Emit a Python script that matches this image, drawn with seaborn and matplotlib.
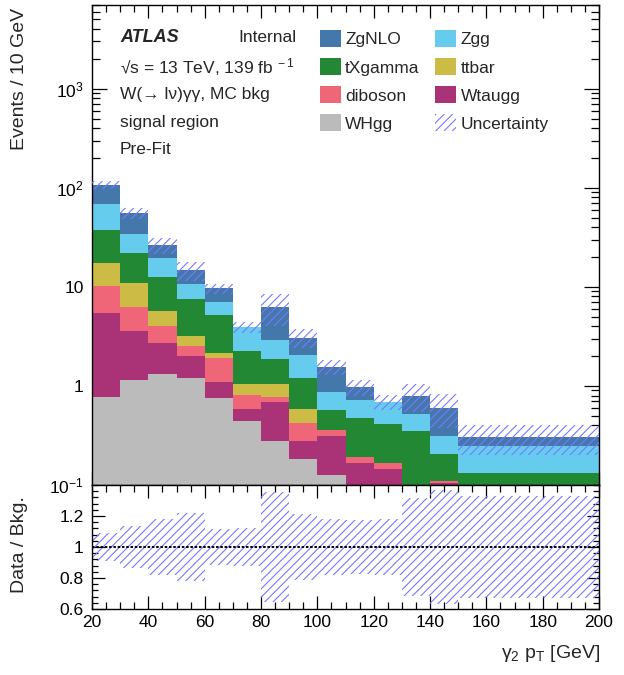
import numpy as np
import pandas as pd
import matplotlib
matplotlib.use("Agg")
import matplotlib.pyplot as plt
import seaborn as sns
from matplotlib.patches import Patch
from matplotlib.ticker import FixedLocator, FixedFormatter, MultipleLocator, LogLocator, NullFormatter

# ---------------- data ----------------
bin_edges = [20, 30, 40, 50, 60, 70, 80, 90, 100, 110, 120, 130, 140, 150, 200]
processes = ["ZgNLO", "Zgg", "tXgamma", "ttbar", "diboson", "Wtaugg", "WHgg"]
colors = ["#4477AA", "#66CCEE", "#228833", "#CCBB44", "#EE6677", "#AA3377", "#BBBBBB"]

ZgNLO   = [38.3, 21.1, 6.6, 4.0, 2.57, 0.0, 3.37, 1.04, 0.687, 0.247, 0.0, 0.273, 0.287, 0.054]
Zgg     = [31.4, 12.3, 7.1, 3.15, 1.97, 1.68, 1.05, 0.85, 0.303, 0.242, 0.28, 0.163, 0.11, 0.118]
tXgamma = [20.5, 11.3, 6.92, 4.37, 2.98, 1.225, 0.815, 0.61, 0.212, 0.284, 0.246, 0.293, 0.094, 0.071]
ttbar   = [7.1, 4.63, 1.65, 0.64, 0.25, 0.227, 0.259, 0.161, 0.0, 0.0, 0.0, 0.0, 0.0, 0.0]
diboson = [4.69, 2.70, 1.29, 0.54, 0.82, 0.228, 0.089, 0.141, 0.044, 0.027, 0.022, 0.01, 0.006, 0.01]
Wtaugg  = [4.73, 2.41, 1.43, 0.80, 0.342, 0.135, 0.409, 0.095, 0.188, 0.106, 0.094, 0.03, 0.064, 0.03]
WHgg    = [0.776, 1.16, 1.31, 1.20, 0.748, 0.445, 0.278, 0.183, 0.126, 0.06, 0.05, 0.02, 0.04, 0.02]
rel_unc = [0.09, 0.133, 0.18, 0.22, 0.117, 0.125, 0.356, 0.216, 0.18, 0.176, 0.18, 0.315, 0.37, 0.33]

x_ticks = [20, 40, 60, 80, 100, 120, 140, 160, 180, 200]
y_ticks = [0.1, 1, 10, 100, 1000]
y_tick_labels = ["$10^{-1}$", "1", "10", "$10^{2}$", "$10^{3}$"]
r_ticks = [0.6, 0.8, 1.0, 1.2]
r_tick_labels = ["0.6", "0.8", "1", "1.2"]

series = dict(zip(processes, [ZgNLO, Zgg, tXgamma, ttbar, diboson, Wtaugg, WHgg]))

# ---------------- style ----------------
sns.set_theme(style="ticks")
plt.rcParams["font.family"] = ["Liberation Sans", "DejaVu Sans"]
plt.rcParams["mathtext.fontset"] = "custom"
plt.rcParams["mathtext.rm"] = "Liberation Sans"
plt.rcParams["mathtext.it"] = "Liberation Sans:italic"
plt.rcParams["mathtext.bf"] = "Liberation Sans:bold"
plt.rcParams["mathtext.default"] = "regular"
plt.rcParams["hatch.linewidth"] = 0.8
FS = 12.5
TFS = 14
hatch_col = "#7878ff"

W, H = 624, 675
fig = plt.figure(figsize=(W / 100, H / 100), dpi=100)
fig.patch.set_facecolor("white")

def fx(px):
    return px / W

def fy(py):
    return 1 - py / H

ax_l, ax_r = 92, 599
main_top, main_bot, rat_bot = 5, 485, 609
ax = fig.add_axes([fx(ax_l), fy(main_bot), (ax_r - ax_l) / W, (main_bot - main_top) / H])
axr = fig.add_axes([fx(ax_l), fy(rat_bot), (ax_r - ax_l) / W, (rat_bot - main_bot) / H], sharex=ax)

# ---------------- stacked histogram ----------------
centers = [(a + b) / 2 for a, b in zip(bin_edges[:-1], bin_edges[1:])]
rows = []
for p in processes:
    for c, v in zip(centers, series[p]):
        rows.append({"pt": c, "weight": v, "process": p})
df = pd.DataFrame(rows)

sns.histplot(data=df, x="pt", weights="weight", hue="process", hue_order=processes,
             palette=dict(zip(processes, colors)), bins=bin_edges, multiple="stack",
             element="bars", linewidth=0, alpha=1, legend=False, ax=ax)

total = np.sum([np.array(series[p]) for p in processes], axis=0)
unc = np.array(rel_unc)
lo = total * (1 - unc)
hi = total * (1 + unc)
ax.fill_between(bin_edges, np.append(lo, lo[-1]), np.append(hi, hi[-1]), step="post",
                facecolor="none", edgecolor=hatch_col, hatch="////", linewidth=0, zorder=5)

ax.set_yscale("log")
ax.set_ylim(0.1, 7000)
ax.set_xlim(20, 200)
ax.set_xlabel("")
ax.set_ylabel("")
ax.yaxis.set_major_locator(FixedLocator(y_ticks))
ax.yaxis.set_major_formatter(FixedFormatter(y_tick_labels))
ax.yaxis.set_minor_locator(LogLocator(base=10, subs=np.arange(2, 10)))
ax.yaxis.set_minor_formatter(NullFormatter())
ax.xaxis.set_major_locator(FixedLocator(x_ticks))
ax.xaxis.set_minor_locator(MultipleLocator(5))
ax.tick_params(axis="x", which="both", labelbottom=False)

# ---------------- ratio ----------------
r_lo = 1 - unc
r_hi = 1 + unc
axr.fill_between(bin_edges, np.append(r_lo, r_lo[-1]), np.append(r_hi, r_hi[-1]), step="post",
                 facecolor="none", edgecolor=hatch_col, hatch="////", linewidth=0, zorder=2)
axr.axhline(1.0, color="black", lw=1.4, linestyle=(0, (1.3, 0.9)), zorder=3)
axr.set_ylim(0.6, 1.4)
axr.set_xlim(20, 200)
axr.yaxis.set_major_locator(FixedLocator(r_ticks))
axr.yaxis.set_major_formatter(FixedFormatter(r_tick_labels))
axr.yaxis.set_minor_locator(MultipleLocator(0.04))
axr.xaxis.set_major_locator(FixedLocator(x_ticks))
axr.xaxis.set_major_formatter(FixedFormatter([str(t) for t in x_ticks]))
axr.xaxis.set_minor_locator(MultipleLocator(5))
axr.set_xlabel("")
axr.set_ylabel("")

for a in (ax, axr):
    for s in a.spines.values():
        s.set_linewidth(1.0)
        s.set_color("black")
    a.tick_params(which="both", direction="in", top=True, right=True, width=0.9,
                  color="black", labelsize=FS, labelcolor="black")
    a.tick_params(axis="x", which="major", length=9.5, pad=4)
    a.tick_params(axis="x", which="minor", length=4.8)
    a.set_facecolor("white")
ax.tick_params(axis="y", which="major", length=11, pad=6)
ax.tick_params(axis="y", which="minor", length=5.5)
axr.tick_params(axis="y", which="major", length=9, pad=6)
axr.tick_params(axis="y", which="minor", length=4.5)

# ---------------- labels ----------------
fig.text(fx(20), fy(8), "Events / 10 GeV", rotation=90, ha="center", va="top", fontsize=TFS)
fig.text(fx(20), fy(545), "Data / Bkg.", rotation=90, ha="center", va="center", fontsize=TFS)
fig.text(fx(600), fy(653), r"$\gamma_{2}\ p_{T}$ [GeV]", ha="right", va="center", fontsize=TFS)

def axc(px, py):
    return ((px - ax_l) / (ax_r - ax_l), 1 - (py - main_top) / (main_bot - main_top))

x0, y0 = axc(120, 38)
ax.text(x0, y0, "ATLAS", transform=ax.transAxes, fontsize=FS + 0.5, fontweight="bold",
        fontstyle="italic", va="center", ha="left")
x1, _ = axc(238, 38)
ax.text(x1, y0, "Internal", transform=ax.transAxes, fontsize=FS, va="center", ha="left")
info = ["\u221as = 13 TeV, 139 fb$^{\\ -1}$", "W(\u2192 l\u03bd)\u03b3\u03b3, MC bkg",
        "signal region", "Pre-Fit"]
for txt, py in zip(info, [66.7, 95, 122.7, 150]):
    xx, yy = axc(120, py)
    ax.text(xx, yy, txt, transform=ax.transAxes, fontsize=FS, va="center", ha="left")

# ---------------- legend ----------------
handles = {p: Patch(facecolor=c, edgecolor="none", label=p) for p, c in zip(processes, colors)}
unc_handle = Patch(facecolor="none", edgecolor=hatch_col, hatch="////", linewidth=0, label="Uncertainty")
order = [handles["ZgNLO"], handles["tXgamma"], handles["diboson"], handles["WHgg"],
         handles["Zgg"], handles["ttbar"], handles["Wtaugg"], unc_handle]
lx, ly = axc(320, 30)
ax.legend(handles=order, loc="upper left", bbox_to_anchor=(lx, ly), ncol=2, frameon=False,
          fontsize=FS, handlelength=1.2, handleheight=1.13, handletextpad=0.25,
          labelspacing=0.62, columnspacing=0.9, borderpad=0, borderaxespad=0)

fig.savefig("out.png", dpi=100, facecolor="white")
